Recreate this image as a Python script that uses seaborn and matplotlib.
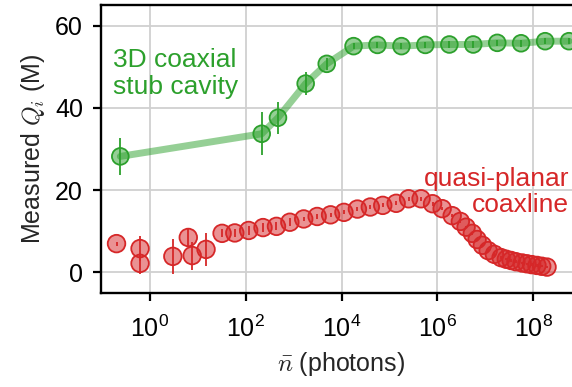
import matplotlib
matplotlib.use("Agg")
import matplotlib.pyplot as plt
import seaborn as sns
import numpy as np
import pandas as pd
from matplotlib.ticker import LogFormatterSciNotation, NullLocator

# 3D coaxial stub cavity
cavity_n = [0.24, 215, 470, 1780, 4900, 1.78e4, 5.6e4, 1.78e5, 5.6e5,
            1.78e6, 5.6e6, 1.78e7, 5.6e7, 1.78e8, 5.6e8]
cavity_q = [28.2, 33.7, 37.6, 45.9, 50.7, 55.0, 55.3, 55.0, 55.3,
            55.4, 55.4, 55.8, 55.7, 56.2, 56.2]
cavity_err = [4.4, 5.2, 3.9, 2.8, 1.5, 0.8, 0.8, 0.8, 0.8,
              0.8, 0.8, 0.8, 0.8, 0.8, 0.8]

# quasi-planar coaxline
coax_n = [0.20, 0.62, 0.62, 3.0, 6.3, 7.6, 14.8,
          32, 59, 115, 229, 437, 832,
          1620, 3090, 5890,
          1.12e4, 2.14e4, 3.98e4, 7.24e4,
          1.38e5, 2.51e5, 4.57e5, 7.94e5,
          1.26e6, 2.04e6, 3.02e6, 3.98e6, 5.37e6, 6.76e6, 8.71e6,
          1.15e7, 1.55e7, 2.14e7, 2.75e7, 3.47e7, 4.37e7, 5.89e7, 7.41e7, 9.33e7,
          1.20e8, 1.51e8, 1.95e8]
coax_q = [7.0, 5.8, 2.2, 3.9, 8.5, 4.1, 5.6,
          9.5, 9.6, 10.2, 10.9, 11.2, 12.2,
          13.0, 13.6, 14.0,
          14.6, 15.4, 15.9, 16.3,
          16.8, 17.9, 17.9, 16.7,
          15.5, 13.8, 12.4, 11.0, 9.5, 8.0, 6.6,
          5.3, 4.4, 3.6, 3.2, 2.9, 2.6, 2.3, 2.1, 1.9,
          1.7, 1.5, 1.3]
coax_err = [0.5, 3.0, 2.5, 4.2, 2.0, 3.4, 4.1,
            1.0, 1.0, 1.0, 1.0, 1.0, 1.0,
            0.5, 0.5, 0.5,
            0.5, 0.5, 0.5, 0.5,
            0.5, 0.5, 0.5, 0.5,
            0.3, 0.3, 0.3, 0.3, 0.3, 0.3, 0.3,
            0.3, 0.3, 0.3, 0.3, 0.3, 0.3, 0.3, 0.3, 0.3,
            0.3, 0.3, 0.3]

xticks = [1e0, 1e2, 1e4, 1e6, 1e8]
yticks = [0, 20, 40, 60]

GREEN = "#2ca02c"
RED = "#d62728"

sns.set_theme(style="ticks")
plt.rcParams["font.family"] = ["Liberation Sans", "DejaVu Sans"]
plt.rcParams["mathtext.fontset"] = "cm"

cavity = pd.DataFrame({"n": cavity_n, "q": cavity_q})
coax = pd.DataFrame({"n": coax_n, "q": coax_q})

fig = plt.figure(figsize=(5.72, 3.87), dpi=100)
ax = fig.add_axes([101 / 572, 1 - 293 / 387, (582 - 101) / 572, (293 - 5) / 387])
ax.set_xscale("log")

# cavity: thick translucent trace behind the markers
sns.lineplot(data=cavity, x="n", y="q", ax=ax, color=GREEN, alpha=0.5,
             linewidth=5, sort=True, estimator=None, zorder=2)
ax.errorbar(cavity_n, cavity_q, yerr=cavity_err, fmt="none", ecolor=GREEN,
            elinewidth=1.3, zorder=4)
sns.scatterplot(data=cavity, x="n", y="q", ax=ax, s=145, color=GREEN,
                alpha=0.5, edgecolor="none", zorder=3)
sns.scatterplot(data=cavity, x="n", y="q", ax=ax, s=145, facecolor="none",
                edgecolor=GREEN, linewidth=1.3, zorder=3)

# coaxline
ax.errorbar(coax_n, coax_q, yerr=coax_err, fmt="none", ecolor=RED,
            elinewidth=1.3, zorder=4)
sns.scatterplot(data=coax, x="n", y="q", ax=ax, s=160, color=RED,
                alpha=0.5, edgecolor="none", zorder=3)
sns.scatterplot(data=coax, x="n", y="q", ax=ax, s=160, facecolor="none",
                edgecolor=RED, linewidth=1.3, zorder=3)

ax.set_xlim(10 ** -1.023, 10 ** 9.02)
ax.set_ylim(-5, 65)
ax.set_xticks(xticks)
ax.xaxis.set_major_formatter(LogFormatterSciNotation())
ax.xaxis.set_minor_locator(NullLocator())
ax.set_yticks(yticks)

ax.grid(True, color="#d0d0d0", linewidth=1.3, zorder=0)
ax.set_axisbelow(True)
for side in ["top", "bottom", "left", "right"]:
    ax.spines[side].set_visible(True)
    ax.spines[side].set_linewidth(1.7)
    ax.spines[side].set_color("black")
ax.tick_params(axis="both", which="major", direction="out", length=6,
               width=1.6, labelsize=18, colors="black")
ax.tick_params(axis="x", pad=10)
ax.tick_params(axis="y", pad=7)

ax.set_xlabel(r"$\bar{n}$ (photons)", fontsize=18, labelpad=6)
ax.set_ylabel(r"Measured $Q_i$ (M)", fontsize=18, labelpad=6)

ax.text(0.17, 43.4, "3D coaxial\nstub cavity", color=GREEN, fontsize=19,
        ha="left", va="baseline", linespacing=1.15)
ax.text(10 ** 8.75, 14.6, "quasi-planar\ncoaxline", color=RED, fontsize=19,
        ha="right", va="baseline", linespacing=1.15, multialignment="right")

fig.savefig("out.png", dpi=100)
